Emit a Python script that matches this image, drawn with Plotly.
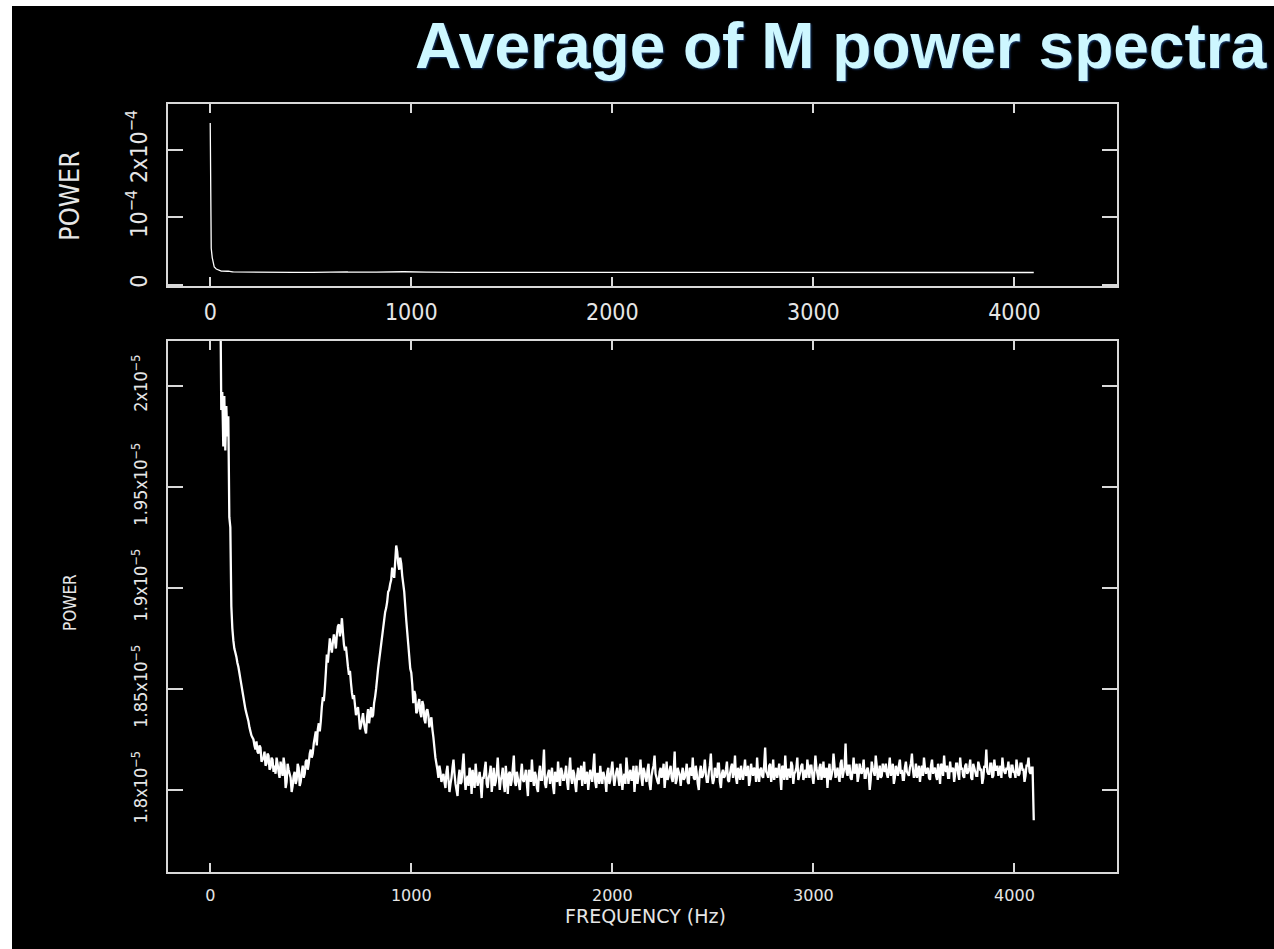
import plotly.graph_objects as go

# ---------------- data (power in units of 1e-8) ----------------
freq_low_hz = [0, 5, 10, 15, 20, 30, 40, 50, 55, 60, 65, 70, 75, 80, 85, 90, 95, 100, 105, 110, 115]
power_low_e8 = [24000, 5400, 4000, 3000, 2600, 2300, 2150, 2050, 1988, 1997, 1970, 1995,
                1968, 1990, 1975, 1985, 1935, 1930, 1891, 1880, 1874]

# 120 Hz .. 1150 Hz in 10 Hz bins
power_peaks_e8 = [
    1870, 1866, 1861, 1855, 1849, 1843, 1838, 1834, 1829, 1826, 1822, 1824, 1818, 1821, 1815, 1819, 1813, 1817, 1811, 1815,
    1812, 1816, 1809, 1814, 1807, 1812, 1804, 1810, 1806, 1802, 1809, 1805, 1811, 1804, 1812, 1808, 1815, 1813, 1820, 1818,
    1826, 1822, 1833, 1834, 1846, 1850, 1867, 1869, 1871, 1873, 1874, 1877, 1882, 1879, 1878, 1869, 1866, 1857, 1853, 1845,
    1842, 1839, 1836, 1832, 1838, 1830, 1836, 1833, 1841, 1837, 1846, 1855, 1864, 1872, 1880, 1888, 1893, 1899, 1904, 1907,
    1913, 1918, 1909, 1912, 1902, 1891, 1878, 1866, 1858, 1843, 1847, 1839, 1845, 1836, 1842, 1833, 1840, 1831, 1836, 1826,
    1816, 1810, 1812, 1804,
]
# 125 Hz .. 1145 Hz (bins between the ones above)
power_peaks_half_e8 = [
    1868, 1863, 1858, 1852, 1846, 1840, 1836, 1831, 1827, 1825, 1820, 1819, 1822, 1814, 1816, 1812, 1818, 1810, 1816, 1809,
    1808, 1813, 1806, 1810, 1816, 1801, 1813, 1808, 1799, 1807, 1803, 1813, 1802, 1809, 1806, 1814, 1810, 1818, 1816, 1823,
    1829, 1830, 1829, 1841, 1844, 1858, 1863, 1875, 1868, 1877, 1870, 1881, 1876, 1885, 1872, 1871, 1861, 1859, 1848, 1847,
    1837, 1841, 1830, 1835, 1833, 1828, 1840, 1837, 1836, 1843, 1850, 1860, 1868, 1876, 1884, 1890, 1898, 1902, 1910, 1905,
    1921, 1912, 1915, 1906, 1898, 1884, 1872, 1860, 1852, 1849, 1838, 1843, 1838, 1844, 1835, 1839, 1837, 1834, 1830, 1821,
    1813, 1806, 1809,
]

# 1160 Hz .. 4090 Hz in 10 Hz bins
power_flat_e8 = [
    1808, 1801, 1812, 1799, 1806, 1815, 1803, 1797, 1810, 1804, 1818, 1800, 1807, 1811, 1798, 1805, 1813, 1802, 1809, 1796,
    1806, 1814, 1801, 1808, 1799, 1811, 1804, 1816, 1800, 1807, 1803, 1812, 1798, 1809, 1805, 1817, 1802, 1806, 1800, 1813,
    1804, 1810, 1797, 1808, 1815, 1802, 1807, 1799, 1812, 1805, 1820, 1801, 1808, 1803, 1811, 1798, 1806, 1814, 1802, 1809,
    1805, 1812, 1800, 1816, 1803, 1808, 1799, 1811, 1806, 1802, 1814, 1807, 1800, 1810, 1804, 1818, 1801, 1808, 1812, 1803,
    1807, 1799, 1811, 1805, 1814, 1802, 1809, 1806, 1813, 1800, 1808, 1816, 1803, 1810, 1805, 1799, 1812, 1807, 1815, 1802,
    1809, 1804, 1813, 1800, 1810, 1817, 1806, 1803, 1811, 1808, 1801, 1814, 1807, 1812, 1804, 1819, 1805, 1809, 1802, 1811,
    1806, 1813, 1803, 1810, 1816, 1805, 1808, 1800, 1812, 1807, 1815, 1804, 1809, 1818, 1803, 1811, 1806, 1813, 1801, 1810,
    1807, 1814, 1804, 1811, 1806, 1817, 1803, 1809, 1812, 1805, 1815, 1808, 1802, 1813, 1807, 1810, 1816, 1804, 1811, 1806,
    1821, 1808, 1812, 1804, 1815, 1809, 1806, 1813, 1800, 1811, 1817, 1805, 1810, 1814, 1803, 1809, 1816, 1807, 1812, 1805,
    1810, 1815, 1806, 1812, 1803, 1817, 1808, 1811, 1805, 1814, 1809, 1801, 1813, 1807, 1818, 1806, 1811, 1804, 1815, 1809,
    1823, 1807, 1812, 1805, 1816, 1810, 1804, 1813, 1808, 1815, 1806, 1811, 1800, 1814, 1809, 1817, 1805, 1812, 1807, 1810,
    1813, 1806, 1816, 1809, 1803, 1812, 1807, 1815, 1810, 1805, 1814, 1808, 1811, 1818, 1806, 1813, 1809, 1804, 1812, 1816,
    1808, 1811, 1805, 1815, 1810, 1807, 1813, 1803, 1812, 1817, 1809, 1806, 1814, 1810, 1804, 1813, 1808, 1816, 1811, 1806,
    1813, 1809, 1815, 1805, 1811, 1807, 1814, 1810, 1803, 1812, 1820, 1808, 1813, 1806, 1815, 1810, 1807, 1812, 1816, 1809,
    1811, 1814, 1806, 1812, 1809, 1815, 1807, 1813, 1810, 1804, 1812, 1816, 1808, 1811,
]
# 1165 Hz .. 4085 Hz (bins between the ones above)
power_flat_half_e8 = [
    1804, 1809, 1805, 1803, 1811, 1808, 1800, 1806, 1803, 1812, 1807, 1805, 1802, 1808, 1810, 1801, 1807, 1805, 1803, 1806,
    1810, 1803, 1806, 1812, 1804, 1802, 1809, 1807, 1805, 1811, 1799, 1806, 1808, 1802, 1811, 1804, 1809, 1803, 1808, 1805,
    1807, 1803, 1810, 1804, 1806, 1809, 1801, 1808, 1805, 1811, 1803, 1806, 1810, 1807, 1802, 1809, 1804, 1806, 1811, 1805,
    1808, 1804, 1809, 1806, 1810, 1803, 1807, 1805, 1812, 1808, 1803, 1809, 1805, 1807, 1811, 1804, 1808, 1803, 1806, 1809,
    1805, 1809, 1803, 1810, 1807, 1806, 1811, 1802, 1808, 1806, 1803, 1810, 1808, 1805, 1812, 1806, 1803, 1809, 1806, 1811,
    1806, 1810, 1803, 1807, 1812, 1808, 1804, 1809, 1806, 1813, 1807, 1805, 1810, 1806, 1809, 1803, 1811, 1807, 1808, 1805,
    1809, 1804, 1811, 1807, 1806, 1812, 1803, 1809, 1806, 1810, 1808, 1804, 1812, 1807, 1805, 1809, 1813, 1804, 1808, 1806,
    1810, 1805, 1808, 1813, 1809, 1806, 1811, 1805, 1808, 1810, 1807, 1812, 1805, 1809, 1811, 1804, 1808, 1810, 1807, 1812,
    1809, 1806, 1813, 1808, 1805, 1811, 1809, 1807, 1812, 1805, 1808, 1810, 1806, 1812, 1808, 1811, 1805, 1809, 1813, 1807,
    1806, 1810, 1812, 1807, 1809, 1811, 1805, 1813, 1808, 1806, 1811, 1809, 1805, 1810, 1812, 1808, 1807, 1813, 1806, 1811,
    1809, 1812, 1806, 1810, 1808, 1813, 1807, 1809, 1811, 1806, 1810, 1808, 1805, 1811, 1807, 1812, 1808, 1806, 1813, 1809,
    1808, 1811, 1807, 1813, 1806, 1810, 1812, 1808, 1805, 1811, 1809, 1807, 1813, 1810, 1808, 1806, 1812, 1809, 1807, 1811,
    1810, 1806, 1812, 1808, 1811, 1805, 1809, 1813, 1807, 1810, 1812, 1806, 1809, 1811, 1808, 1813, 1805, 1810, 1807, 1812,
    1808, 1811, 1806, 1813, 1809, 1807, 1812, 1810, 1806, 1811, 1809, 1808, 1813, 1807, 1810, 1812, 1809, 1806, 1811, 1808,
    1810, 1807, 1812, 1809, 1806, 1811, 1808, 1813, 1810, 1807, 1812, 1809, 1811,
]

freq_end_hz = [4096]
power_end_e8 = [1785]

top_tick_vals = [0, 1e-4, 2e-4]
top_tick_text = ["0", "10<sup>\u22124</sup>", "2x10<sup>\u22124</sup>"]
bot_tick_vals = [1.80e-5, 1.85e-5, 1.90e-5, 1.95e-5, 2.00e-5]
bot_tick_text = ["1.8x10<sup>\u22125</sup>", "1.85x10<sup>\u22125</sup>", "1.9x10<sup>\u22125</sup>",
                 "1.95x10<sup>\u22125</sup>", "2x10<sup>\u22125</sup>"]
x_tick_vals = [0, 1000, 2000, 3000, 4000]


# ---------------- assemble series (interleave 10 Hz bins with the in-between bins) ----------------
def interleave(start, full, half):
    fx, fy = [], []
    for i, v in enumerate(full):
        fx.append(start + 10 * i)
        fy.append(v)
        if i < len(half):
            fx.append(start + 10 * i + 5)
            fy.append(half[i])
    return fx, fy


fx1, fy1 = interleave(120, power_peaks_e8, power_peaks_half_e8)
fx2, fy2 = interleave(1160, power_flat_e8, power_flat_half_e8)
freq_all = freq_low_hz + fx1 + fx2 + freq_end_hz
power_all = [v * 1e-8 for v in power_low_e8 + fy1 + fy2 + power_end_e8]

# ---------------- layout geometry ----------------
W, H = 1274, 949
L, R, T, B = 168, 1117, 104, 872
PW, PH = R - L, B - T


def px(xp):
    return (xp - L) / PW


def py(yp):
    return (B - yp) / PH


AX = "#d9d9d9"
TXT = "#e6e6e6"
NARROW = "Liberation Sans Narrow, DejaVu Sans Condensed, Arial Narrow, sans-serif"
WIDE = "DejaVu Sans, Verdana, sans-serif"

fig = go.Figure()
fig.add_trace(go.Scatter(x=freq_all, y=power_all, mode="lines", xaxis="x", yaxis="y",
                         line=dict(color="white", width=1.3), hoverinfo="skip"))
fig.add_trace(go.Scatter(x=freq_all, y=power_all, mode="lines", xaxis="x2", yaxis="y2",
                         line=dict(color="white", width=2.3, simplify=False), hoverinfo="skip"))

common_axis = dict(showgrid=False, zeroline=False, showline=True, linecolor=AX, linewidth=1.5,
                   mirror="ticks", ticks="inside", tickcolor=AX, tickwidth=1.5)

fig.update_layout(
    width=W, height=H,
    margin=dict(l=L, r=W - R, t=T, b=H - B, pad=0),
    paper_bgcolor="black", plot_bgcolor="black",
    showlegend=False,
    xaxis=dict(domain=[0, 1], anchor="y", range=[-210, 4510], tickvals=x_tick_vals,
               ticklen=9, tickfont=dict(family=NARROW, size=23, color=TXT),
               ticklabelstandoff=5, **common_axis),
    yaxis=dict(domain=[py(286), 1], anchor="x", range=[-0.022e-4, 2.684e-4],
               tickvals=top_tick_vals, ticktext=top_tick_text, tickangle=-90,
               ticklen=15, tickfont=dict(family=NARROW, size=23, color=TXT),
               ticklabelstandoff=10, **common_axis),
    xaxis2=dict(domain=[0, 1], anchor="y2", range=[-210, 4510], tickvals=x_tick_vals,
                ticklen=9, tickfont=dict(family=WIDE, size=16, color=TXT),
                ticklabelstandoff=8, **common_axis),
    yaxis2=dict(domain=[0, py(341)], anchor="x2", range=[1.7594e-5, 2.0222e-5],
                tickvals=bot_tick_vals, ticktext=bot_tick_text, tickangle=-90,
                ticklen=15, tickfont=dict(family=NARROW, size=18, color=TXT),
                ticklabelstandoff=12, **common_axis),
)

# white slide border strips (left and top)
fig.add_shape(type="rect", xref="paper", yref="paper", x0=px(0), x1=px(12), y0=py(H), y1=py(0),
              fillcolor="white", line_width=0, layer="below")
fig.add_shape(type="rect", xref="paper", yref="paper", x0=px(0), x1=px(W), y0=py(6), y1=py(0),
              fillcolor="white", line_width=0, layer="below")

# title
fig.add_annotation(text="<b>Average of M power spectra</b>", xref="paper", yref="paper",
                   x=px(1269), y=py(46), xanchor="right", yanchor="middle", showarrow=False,
                   font=dict(family="Liberation Sans, Arial, sans-serif", size=64, color="#cdf7ff",
                             shadow="1px 1px 2px #1b3f73"))
# axis titles
fig.add_annotation(text="POWER", xref="paper", yref="paper", x=px(70), y=py(196),
                   textangle=-90, showarrow=False, xanchor="center", yanchor="middle",
                   font=dict(family=NARROW, size=27, color=TXT))
fig.add_annotation(text="POWER", xref="paper", yref="paper", x=px(70), y=py(603),
                   textangle=-90, showarrow=False, xanchor="center", yanchor="middle",
                   font=dict(family=NARROW, size=17, color=TXT))
fig.add_annotation(text="FREQUENCY (Hz)", xref="paper", yref="paper", x=px(645), y=py(916),
                   showarrow=False, xanchor="center", yanchor="middle",
                   font=dict(family=WIDE, size=19, color=TXT))

fig.write_html("out.html")
